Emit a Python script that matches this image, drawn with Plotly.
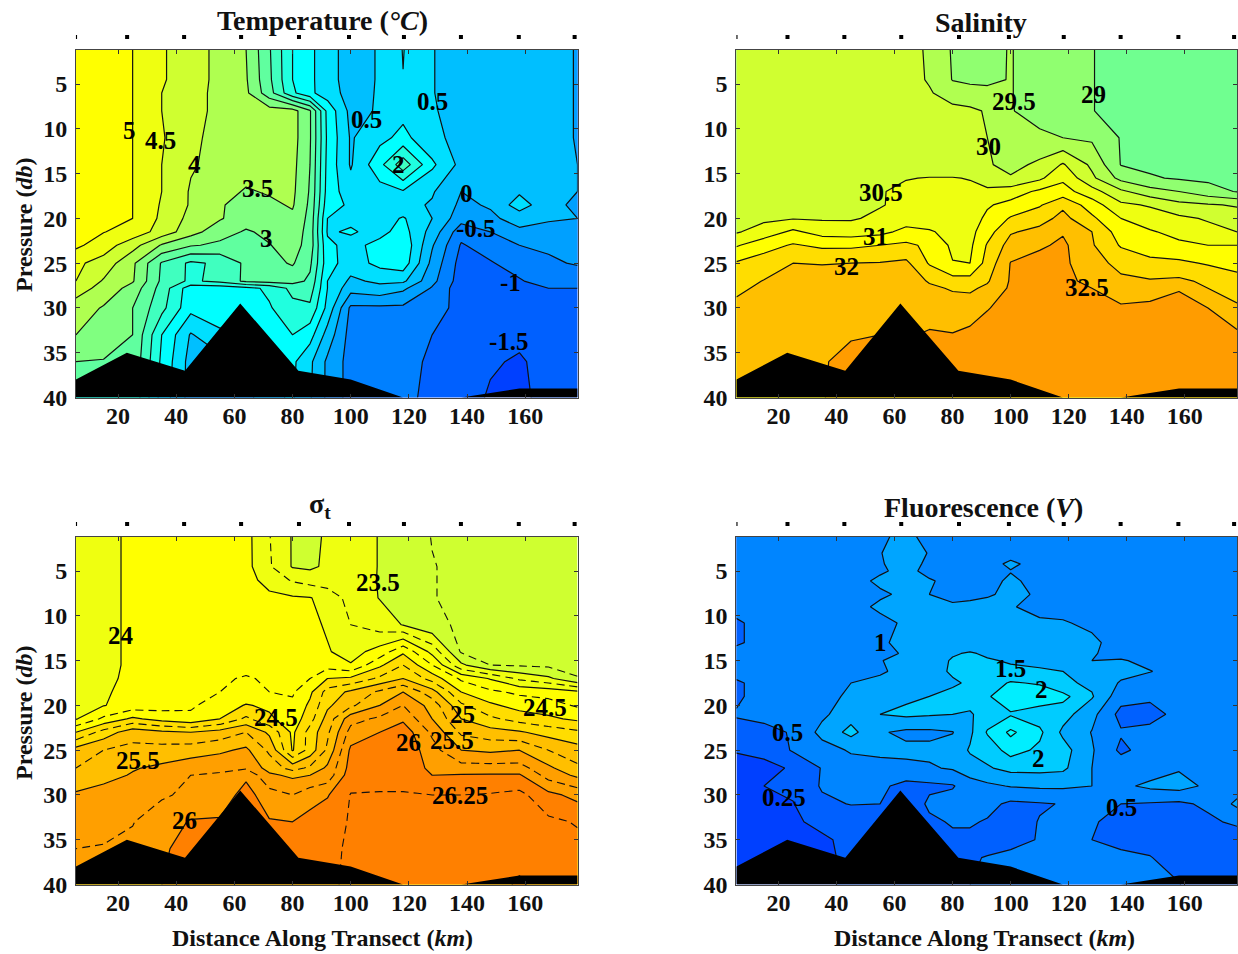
import numpy as np
import plotly.graph_objects as go

W, H = 1238, 954
Y_SCALE_H = 941
distance = [5.5,15,25,35,45,55,64,72,80,86,92,100,110,118,128,138,148,158,168,178]
pressure = [1,4.5,6,8,11,14,17,18.5,20,21.5,23,25,27,27.8,30,33,36,40]
pressure_sal = [1,4.5,6,8,11,14,15.5,17,18.5,20,21.5,23,25,27,27.8,30,33,36,40]
pressure_fluor = [1,3,4.2,5,6.1,7.6,9,10.8,13,14.2,15,16.2,17.5,19,21,23,25,27,29,31,33,35,37,40]

temperature = [
[5.4,5.2,5.0,4.55,4.25,3.85,3.5,2.55,1.5,1.1,.72,.25,.55,1.02,.52,.3,.25,.2,.12,-.02],
[5.4,5.2,5.0,4.55,4.25,3.85,3.55,2.6,1.5,1.1,.72,.25,.55,.99,.52,.3,.25,.2,.12,-.02],
[5.4,5.2,5.0,4.5,4.2,3.85,3.6,2.7,1.6,1.1,.75,.3,.55,.9,.52,.3,.25,.2,.12,-.02],
[5.4,5.2,5.0,4.5,4.2,3.85,3.75,3.72,3.7,3.05,1.35,.35,.55,.85,.55,.3,.25,.2,.12,-.02],
[5.4,5.2,5.0,4.55,4.1,3.85,3.8,3.75,3.7,3.05,1.4,.45,.85,1.15,.62,.35,.25,.2,.12,-.02],
[5.4,5.2,5.0,4.5,4.05,3.85,3.75,3.7,3.65,3.0,1.35,.45,1.35,2.3,1.1,.35,.25,.2,.15,0.0],
[5.4,5.2,5.0,4.5,3.95,3.7,3.45,3.55,3.6,2.95,1.3,.7,.8,.95,.55,0.0,.25,.42,.15,0.0],
[5.4,5.2,5.0,4.45,3.95,3.55,3.3,3.4,3.55,2.9,1.2,.92,.75,.65,.45,-.1,.05,.75,.15,-.1],
[5.4,5.2,5.0,4.4,3.85,3.55,3.2,3.3,3.4,2.85,1.0,.9,.75,1.05,.5,-.3,-.1,.2,.05,0.0],
[5.3,5.02,4.8,4.3,3.7,3.2,2.95,3.1,3.3,2.8,.95,1.05,.85,1.2,.3,-.8,-.5,-.1,-.15,-.2],
[5.1,4.75,4.2,3.45,3.05,2.9,2.85,2.98,3.2,2.8,1.1,.85,1.15,1.4,.05,-1.05,-.75,-.5,-.45,-.45],
[4.6,4.3,3.6,2.45,1.9,2.1,2.6,2.85,3.05,2.6,1.2,.75,1.15,1.3,-.15,-1.2,-1.05,-.75,-.55,-.47],
[4.5,3.95,3.55,2.4,1.9,2.15,2.6,2.7,2.7,2.4,1.0,.4,.6,.6,-.35,-1.25,-1.25,-1.05,-.75,-.7],
[4.2,3.85,3.3,2.3,1.2,1.2,1.35,1.6,2.15,2.25,1.0,.2,.35,.1,-.55,-1.3,-1.3,-1.1,-1.0,-1.0],
[3.8,3.45,3.0,2.15,1.15,1.15,1.2,1.45,1.85,1.9,.85,-.6,-.6,-.6,-.8,-1.15,-1.3,-1.25,-1.2,-1.2],
[3.5,3.2,3.0,1.5,.45,.95,.9,1.3,1.5,1.2,.3,-.7,-.75,-.8,-1.0,-1.2,-1.4,-1.4,-1.3,-1.3],
[3.0,2.98,2.9,1.4,.3,.3,.5,.95,1.1,.6,-.1,-.7,-.85,-.9,-1.05,-1.25,-1.45,-1.55,-1.35,-1.3],
[3.0,3.0,2.9,1.3,.3,.3,.3,.9,1.05,.55,-.1,-.7,-.9,-.95,-1.05,-1.3,-1.55,-1.6,-1.35,-1.3],
]

salinity = [
[30.3,30.3,30.3,30.3,30.3,30.25,30.2,29.92,29.45,29.4,29.4,29.52,29.3,29.2,29.01,28.9,28.85,28.85,28.85,28.85],
[30.3,30.3,30.3,30.3,30.3,30.25,30.2,29.95,29.48,29.42,29.42,29.52,29.3,29.2,29.01,28.9,28.85,28.85,28.85,28.85],
[30.3,30.3,30.3,30.3,30.3,30.25,30.2,30.05,29.75,29.65,29.6,29.52,29.3,29.2,29.01,28.9,28.85,28.85,28.85,28.85],
[30.3,30.3,30.3,30.3,30.3,30.25,30.2,30.2,30.15,30.1,29.95,29.53,29.3,29.2,29.01,28.9,28.85,28.85,28.85,28.85],
[30.3,30.3,30.3,30.3,30.3,30.25,30.2,30.2,30.2,30.15,30.0,29.75,29.6,29.5,29.42,28.97,28.85,28.85,28.85,28.85],
[30.3,30.3,30.3,30.3,30.3,30.25,30.2,30.2,30.2,30.15,30.05,29.85,30.1,30.55,29.9,28.98,28.9,28.87,28.85,28.85],
[30.32,30.32,30.32,30.32,30.33,30.35,30.48,30.52,30.52,30.48,30.3,30.05,30.4,30.9,30.1,29.35,29.05,28.95,28.9,28.87],
[30.35,30.35,30.35,30.35,30.4,30.47,30.6,30.65,30.65,30.6,30.58,30.75,31.1,31.2,30.7,30.1,29.7,29.5,29.2,28.97],
[30.38,30.38,30.38,30.38,30.4,30.47,30.62,30.65,30.65,30.68,30.95,31.15,31.45,31.9,31.25,30.6,30.45,30.15,30.05,29.95],
[30.38,30.4,30.47,30.45,30.45,30.6,30.75,30.75,30.72,30.78,31.1,31.55,31.8,32.15,31.6,31.0,30.75,30.6,30.45,30.25],
[30.45,30.72,31.1,30.8,30.75,30.85,31.15,31.05,30.85,30.85,31.3,31.95,32.15,32.45,32.0,31.25,31.05,30.85,30.65,30.5],
[30.95,31.3,31.55,31.4,31.4,31.5,31.6,31.4,30.9,30.9,31.55,32.2,32.42,32.6,32.05,31.45,31.3,31.1,31.0,31.0],
[31.55,31.75,32.0,31.98,32.0,32.02,32.1,31.45,31.02,31.0,31.7,32.52,32.7,32.6,32.2,31.85,31.6,31.6,31.45,31.4],
[31.8,32.02,32.2,32.2,32.25,32.28,32.3,31.95,31.7,31.7,31.95,32.55,32.8,32.55,32.45,32.1,32.05,32.1,31.9,31.6],
[31.92,32.08,32.25,32.25,32.27,32.3,32.3,32.1,31.95,31.92,32.1,32.58,32.85,32.8,32.5,32.3,32.4,32.48,32.0,31.7],
[32.1,32.2,32.3,32.3,32.33,32.35,32.3,32.3,32.25,32.25,32.47,32.7,32.9,32.85,32.7,32.55,32.55,32.6,32.5,32.1],
[32.2,32.3,32.35,32.42,32.47,32.5,32.45,32.55,32.52,32.62,32.75,32.9,33.0,33.0,32.9,32.8,32.75,32.75,32.7,32.6],
[32.3,32.35,32.4,32.47,32.6,32.6,32.6,32.6,32.7,32.7,32.85,33.0,33.05,33.05,33.0,32.9,32.85,32.85,32.8,32.75],
[32.35,32.38,32.4,32.48,32.65,32.65,32.65,32.65,32.75,32.75,32.9,33.05,33.1,33.1,33.05,33.0,32.9,32.9,32.85,32.8],
]

sigma_t = [
[23.9,23.97,24.02,24.05,24.05,24.05,24.08,23.76,23.48,23.4,23.55,23.6,23.49,23.4,23.24,23.2,23.2,23.2,23.2,23.2],
[23.9,23.97,24.02,24.05,24.05,24.05,24.08,23.78,23.48,23.45,23.55,23.6,23.49,23.4,23.26,23.2,23.2,23.2,23.2,23.2],
[23.9,23.97,24.02,24.05,24.05,24.05,24.08,23.92,23.72,23.65,23.6,23.58,23.49,23.4,23.26,23.2,23.2,23.2,23.2,23.2],
[23.9,23.97,24.02,24.05,24.05,24.05,24.1,24.05,24.03,24.01,23.92,23.65,23.49,23.4,23.26,23.2,23.2,23.2,23.2,23.2],
[23.9,23.97,24.02,24.05,24.05,24.05,24.1,24.1,24.08,24.06,23.97,23.75,23.62,23.49,23.3,23.22,23.2,23.2,23.2,23.2],
[23.9,23.97,24.02,24.05,24.05,24.05,24.1,24.1,24.1,24.08,24.02,23.9,24.1,24.45,23.92,23.22,23.2,23.2,23.19,23.19],
[23.9,23.97,24.02,24.05,24.07,24.13,24.18,24.16,24.15,24.17,24.15,24.02,24.45,24.75,24.25,23.55,23.25,23.22,23.2,23.2],
[23.9,23.98,24.02,24.05,24.1,24.22,24.27,24.22,24.2,24.25,24.5,24.55,24.8,25.0,24.65,24.2,23.98,23.7,23.55,23.26],
[23.92,23.98,24.05,24.08,24.15,24.25,24.3,24.25,24.22,24.45,24.85,25.05,25.3,25.5,25.1,24.5,24.3,24.2,24.15,24.05],
[23.93,23.99,24.1,24.15,24.22,24.35,24.52,24.45,24.3,24.55,24.95,25.2,25.5,25.75,25.4,24.8,24.55,24.4,24.35,24.22],
[23.98,24.3,24.55,24.4,24.3,24.5,24.8,24.55,24.35,24.65,25.1,25.65,25.8,25.95,25.5,25.0,24.8,24.65,24.55,24.45],
[24.5,24.85,25.15,25.05,25.0,25.1,25.25,24.95,24.45,24.85,25.2,25.85,26.0,26.15,25.7,25.2,25.1,25.03,24.9,24.8],
[25.1,25.25,25.32,25.35,25.38,25.45,25.55,25.2,24.48,24.85,25.3,26.05,26.15,26.2,25.85,25.5,25.45,25.5,25.25,25.1],
[25.25,25.35,25.48,25.55,25.65,25.7,25.72,25.4,25.15,25.3,25.55,26.1,26.2,26.15,25.95,25.85,25.85,25.85,25.55,25.3],
[25.35,25.42,25.52,25.6,25.75,25.78,25.95,25.55,25.45,25.5,25.6,26.15,26.2,26.2,26.0,26.02,26.03,26.03,25.65,25.45],
[25.53,25.6,25.65,25.72,25.8,25.85,26.1,25.85,25.75,25.9,25.98,26.26,26.26,26.26,26.25,26.25,26.27,26.32,26.07,25.92],
[25.65,25.7,25.74,25.88,26.02,26.03,26.05,26.02,26.0,26.08,26.15,26.27,26.3,26.3,26.3,26.32,26.33,26.33,26.3,26.23],
[25.75,25.76,25.8,25.98,26.05,26.05,26.05,26.05,26.1,26.15,26.2,26.28,26.32,26.32,26.33,26.35,26.35,26.35,26.35,26.32],
[25.8,25.8,25.82,26.0,26.06,26.06,26.06,26.06,26.12,26.18,26.22,26.28,26.33,26.33,26.35,26.36,26.36,26.55,26.35,26.33],
]

fluorescence = [
[.75,.75,.75,.75,.75,.9,1.15,.78,.75,.75,.75,.75,.75,.75,.75,.75,.75,.75,.75,.75],
[.75,.75,.75,.75,.75,.98,1.25,.97,.75,.75,.75,.8,.75,.75,.75,.75,.75,.75,.75,.75],
[.75,.75,.75,.75,.75,.96,1.2,.9,.75,.75,.8,1.1,.8,.75,.75,.75,.75,.75,.75,.75],
[.75,.75,.75,.75,.75,.93,1.15,.85,.75,.75,.78,.98,.78,.75,.75,.75,.75,.75,.75,.75],
[.75,.75,.75,.75,.8,1.1,1.25,1.05,.85,.8,.85,1.08,.85,.75,.75,.75,.75,.75,.75,.75],
[.75,.75,.75,.75,.8,.92,1.1,1.0,.85,.9,.95,1.1,.95,.78,.75,.75,.75,.75,.75,.75],
[.75,.75,.75,.75,.8,1.1,1.2,1.15,1.08,1.1,1.15,1.05,.8,.8,.75,.75,.75,.75,.75,.75],
[.45,.75,.75,.75,.8,.85,1.08,1.2,1.2,1.2,1.2,1.2,1.1,1.05,.88,.75,.75,.75,.75,.75],
[.45,.75,.75,.75,.8,.92,1.15,1.2,1.2,1.2,1.2,1.2,1.2,1.2,1.12,.75,.75,.75,.75,.75],
[.75,.75,.75,.75,.8,.88,1.05,1.2,1.45,1.55,1.42,1.35,1.3,1.25,1.05,.8,.75,.75,.75,.75],
[.75,.75,.75,.75,.8,.98,1.15,1.25,1.55,1.6,1.55,1.45,1.4,1.3,1.0,1.05,.85,.75,.75,.75],
[.75,.75,.75,.75,.85,.95,1.12,1.35,1.55,1.55,1.6,1.6,1.55,1.5,1.2,1.15,1.02,.8,.75,.75],
[.45,.75,.75,.85,1.0,1.1,1.2,1.3,1.45,1.55,1.75,2.05,1.95,1.6,1.4,.95,.75,.75,.75,.75],
[.45,.75,.75,.85,1.08,1.2,1.42,1.5,1.6,1.7,1.95,2.3,2.3,2.15,1.55,.7,.65,.75,.75,.75],
[.55,.6,.7,.9,1.3,1.5,1.6,1.55,1.5,1.45,1.7,1.95,1.75,1.7,1.15,.42,.35,.75,.75,.75],
[.4,.45,.53,1.15,1.65,1.05,.9,.9,.98,1.4,2.05,2.6,2.1,1.4,.98,.55,.75,.75,.75,.75],
[.26,.3,.55,.8,1.05,1.1,1.1,1.1,1.2,1.55,1.7,2.2,1.9,1.7,1.05,.45,.7,.75,.75,.75],
[.2,.2,.27,.53,.8,.85,.9,.95,1.05,1.3,1.45,1.65,1.65,1.6,1.0,.8,.75,.95,.75,.75],
[.15,.25,.3,.55,.7,.6,.42,.45,.48,.75,.9,1.03,1.08,1.08,1.0,.9,1.1,1.2,.9,.75],
[.12,.18,.24,.45,.52,.5,.3,.6,.7,.75,.65,.45,.48,.52,.52,.5,.48,.45,.6,1.1],
[.1,.15,.22,.3,.35,.4,.4,.45,.55,.55,.48,.4,.52,.65,.55,.42,.35,.35,.45,.6],
[.08,.12,.2,.22,.3,.35,.4,.42,.45,.45,.42,.45,.52,.65,.5,.45,.42,.35,.35,.35],
[.08,.1,.15,.2,.3,.35,.4,.42,.45,.48,.52,.58,.62,.7,.6,.58,.52,.4,.35,.35],
[.08,.1,.15,.2,.3,.35,.4,.42,.45,.5,.55,.6,.65,.7,.65,.62,.58,.52,.35,.35],
]

station_km = [5.2,23.1,42.7,62.3,82.2,99.4,118.3,137.9,157.8,177]
floor_km = [5.5,23,43,62,82,100,118,138,158,178,178,5.5]
floor_db = [38,35,37,29.5,37,38,40,40,39,39,40,40]

x_ticks = [20,40,60,80,100,120,140,160]
y_ticks = [5,10,15,20,25,30,35,40]

temp_colors = ["#0040FF","#0060FF","#0080FF","#00A0FF","#00BFFF","#00DFFF","#00FFFF","#20FFDF",
               "#40FFBF","#60FF9F","#80FF80","#AFFF50","#CFFF30","#EFFF10","#FFFF00"]
sal_colors = ["#70FF90","#90FF70","#B0FF50","#D0FF30","#EEFF11","#FFFF00","#FFDD00","#FFBF00","#FF9C00"]
sig_colors = ["#CFFF30","#EFFF10","#FFFF00","#FFDD00","#FFBF00","#FF9F00","#FF8000","#FF6000"]
flu_colors = ["#0040FF","#0060FF","#0085FF","#00A5FF","#00CCFF","#00EEFF","#00FFFF"]
flu_levels = [0,.25,.5,1,1.5,2,2.5,3]

temp_labels = [(24,10.2,"5"),(34.5,11.3,"4.5"),(46.4,14,"4"),(68,16.7,"3.5"),(71,22.2,"3"),(105.5,9,"0.5"),
               (128,7,"0.5"),(116.5,14,"2"),(139.7,17.2,"0"),(143,21.1,"-0.5"),(155,27.2,"-1"),(154.4,33.7,"-1.5")]
sal_labels = [(101,7,"29.5"),(128.4,6.2,"29"),(92.3,12,"30"),(55.2,17.1,"30.5"),(53.3,22,"31"),(43.4,25.4,"32"),(126.4,27.7,"32.5")]
sig_labels = [(21,12.2,"24"),(109.3,6.3,"23.5"),(74.2,21.4,"24.5"),(166.9,20.2,"24.5"),(138.3,21,"25"),(134.7,23.9,"25.5"),
              (26.9,26.2,"25.5"),(119.8,24.2,"26"),(42.7,32.8,"26"),(137.7,30.1,"26.25")]
flu_labels = [(55.2,13,"1"),(100,15.9,"1.5"),(110.6,18.2,"2"),(109.5,25.9,"2"),(23,23,"0.5"),(22,30.3,"0.25"),(138.2,31.4,"0.5")]

SERIF = "Liberation Serif"
INK = "#111111"
px = lambda v: v / W
py = lambda v: 1 - v / Y_SCALE_H

def band_scale(colors):
    n = len(colors) - 1
    return [[i / n, c] for i, c in enumerate(colors)]

fig = go.Figure()
panels = [("x","y",76,578,50,397.5),("x2","y2",737,1238,50,397.5),("x3","y3",76,578,537,884.5),("x4","y4",737,1238,537,884.5)]

def fill(ax, ay, ys, z, colors, start, end, size, lw=1.2):
    fig.add_trace(go.Contour(x=distance, y=ys, z=z, xaxis=ax, yaxis=ay, showscale=False, hoverinfo="skip",
        colorscale=band_scale(colors), autocontour=False,
        contours=dict(start=start, end=end, size=size, coloring="fill", showlines=lw > 0),
        line=dict(color=INK, width=lw, smoothing=0)))

fill("x","y",pressure,temperature,temp_colors,-1.5,5,.5)
fill("x2","y2",pressure_sal,salinity,sal_colors,29,32.5,.5)
fill("x3","y3",pressure_sal,sigma_t,sig_colors,23.5,26.5,.5)
fill("x4","y4",pressure_fluor,np.interp(np.array(fluorescence),flu_levels,np.arange(-1,7)).tolist(),flu_colors,0,5,1)
fig.add_trace(go.Contour(x=distance,y=pressure_sal,z=sigma_t,xaxis="x3",yaxis="y3",showscale=False,hoverinfo="skip",
    autocontour=False,contours=dict(start=23.25,end=26.25,size=.5,coloring="none"),
    line=dict(color=INK,width=1.1,dash="8px,5px",smoothing=0)))

shapes = []
for ax, ay, l, r, t, b in panels:
    fig.add_trace(go.Scatter(x=floor_km,y=floor_db,xaxis=ax,yaxis=ay,mode="lines",fill="toself",fillcolor="black",
        line=dict(color="black",width=0),hoverinfo="skip",showlegend=False))
    for km in station_km:
        shapes.append(dict(type="rect",xref=ax,yref="paper",xsizemode="pixel",ysizemode="pixel",
            xanchor=km,yanchor=py(t-13),x0=-2,x1=2,y0=-2,y1=2,fillcolor="black",line=dict(width=0)))

layout = dict(width=W,height=H,autosize=False,margin=dict(l=0,r=0,t=0,b=0),paper_bgcolor="white",plot_bgcolor="white",
              showlegend=False,font=dict(family=SERIF,color=INK),shapes=shapes)
tick = dict(size=24,family=SERIF,color=INK,weight="bold")
for i,(ax,ay,l,r,t,b) in enumerate(panels):
    sx = "" if i==0 else str(i+1)
    layout["xaxis"+sx] = dict(domain=[px(l),px(r)],range=[5.5,178],tickvals=x_ticks,ticks="inside",ticklen=4,tickcolor="#333",
        showline=True,linecolor="#444",linewidth=1,mirror="ticks",showgrid=False,zeroline=False,tickfont=tick,anchor=ay,ticklabelstandoff=-3)
    layout["yaxis"+sx] = dict(domain=[py(b),py(t)],range=[40,1.2],tickvals=y_ticks,ticks="inside",ticklen=4,tickcolor="#333",
        showline=True,linecolor="#444",linewidth=1,mirror="ticks",showgrid=False,zeroline=False,tickfont=tick,anchor=ax,
        ticklabelstandoff=3)

ann = []
def text(x,y,s,size=22,angle=0):
    ann.append(dict(x=px(x),y=py(y),xref="paper",yref="paper",text=s,showarrow=False,textangle=angle,
        font=dict(family=SERIF,size=size,color=INK,weight="bold"),xanchor="center",yanchor="middle"))
text(323,21,"Temperature (<i>°C</i>)",28)
text(982,22,"Salinity",28)
text(320,506,"σ<sub>t</sub>",28)
text(984,508,"Fluorescence (<i>V</i>)",28)
text(323,938,"Distance Along Transect (<i>km</i>)",24)
text(985,938,"Distance Along Transect (<i>km</i>)",24)
text(24,225,"Pressure (<i>db</i>)",24,-90)
text(24,713,"Pressure (<i>db</i>)",24,-90)
for labels,(ax,ay,*_) in zip([temp_labels,sal_labels,sig_labels,flu_labels],panels):
    for x,y,s in labels:
        ann.append(dict(x=x,y=y,xref=ax,yref=ay,text=s,showarrow=False,font=dict(family=SERIF,size=25,color="black",weight="bold")))
layout["annotations"] = ann
fig.update_layout(**layout)
fig.write_html("out.html",config={"displayModeBar":False},post_script="document.body.style.margin='0';")
